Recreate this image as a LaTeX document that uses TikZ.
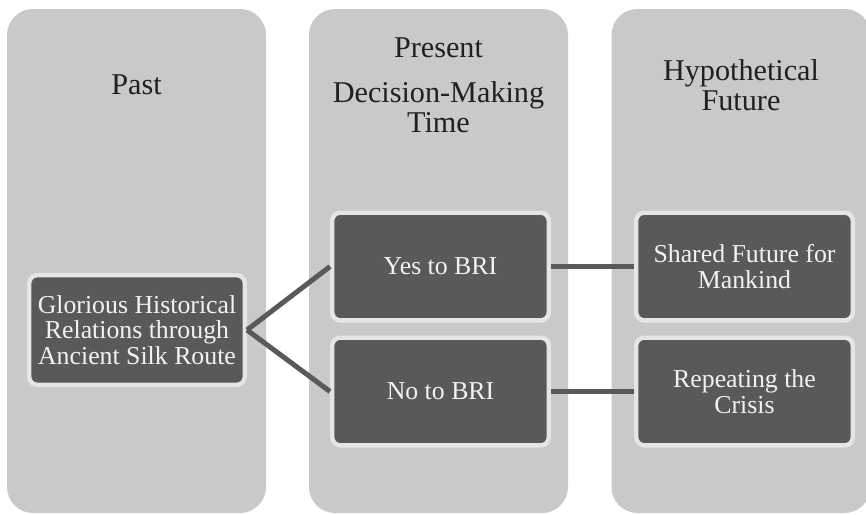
\documentclass[tikz,border=0pt]{standalone}
\usepackage{fontspec}
\setmainfont{Liberation Serif}
\usetikzlibrary{positioning}
\definecolor{colgrey}{HTML}{C8C9CB}
\definecolor{boxgrey}{HTML}{58595B}
\definecolor{rimgrey}{HTML}{E4E5E6}
\definecolor{inkgrey}{HTML}{231F20}
\tikzset{
	column/.style={
		rectangle, minimum width=129.5pt, minimum height=252pt, rounded corners=13pt,
		draw=none, fill=colgrey, inner sep=0pt
	},
	%
	heading/.style={
		text=inkgrey, align=center, inner sep=0pt,
		font=\fontsize{15.1}{15.1}\selectfont
	},
	%
	stage/.style={
		rectangle, minimum width=108.3pt, minimum height=53.8pt, rounded corners=4pt,
		line width=2.2pt, draw=rimgrey, fill=boxgrey, text=white!95!black,
		align=center, inner sep=0pt, font=\fontsize{12.9}{12.9}\selectfont
	},
	%
	link/.style={
		line width=2.5pt, draw=boxgrey
	}
}
\begin{document}
\begin{tikzpicture}[x=0.5pt,y=-0.5pt]
    \useasboundingbox (0,0) rectangle (866,514);
    \node(PastCol)[column] at (136.5,261){};
    \node(PresentCol)[column] at (438.5,261){};
    \node(FutureCol)[column] at (741,261){};
    \node(PastHead)[heading] at (136.5,85){Past};
    \node(PresentHead)[heading] at (438.5,85){Present\\[7.5pt]Decision-Making\\Time};
    \node(FutureHead)[heading] at (741,85){Hypothetical\\Future};
    \node(Silk)[stage, minimum width=107.8pt, minimum height=54.8pt] at (137,330){Glorious Historical\\Relations through\\Ancient Silk Route};
    \node(Yes)[stage] at (440.5,266.5){Yes to BRI};
    \node(No)[stage, below=6.5pt of Yes]{No to BRI};
    \node(Shared)[stage, right=41.5pt of Yes]{Shared Future for\\Mankind};
    \node(Crisis)[stage, below=6.5pt of Shared]{Repeating the\\Crisis};
    \draw[link] (Silk.east) -- (Yes.west);
    \draw[link] (Silk.east) -- (No.west);
    \draw[link] (Yes.east) -- (Shared.west);
    \draw[link] (No.east) -- (Crisis.west);
\end{tikzpicture}
\end{document}
